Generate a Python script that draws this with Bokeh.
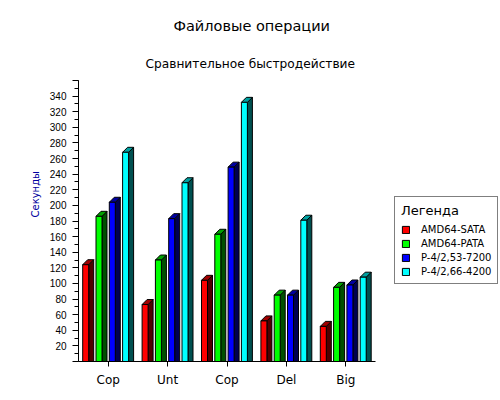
import math
from bokeh.plotting import figure
from bokeh.models import (ColumnDataSource, FixedTicker, Legend, LegendItem,
                          Title, Range1d)
from bokeh.embed import file_html
from bokeh.resources import INLINE

# ---- data ----
categories = ["Cop", "Unt", "Cop", "Del", "Big"]
series_names = ["AMD64-SATA", "AMD64-PATA", "P-4/2,53-7200", "P-4/2,66-4200"]
amd64_sata = [124, 73, 104, 52, 45]
amd64_pata = [186, 130, 163, 85, 95]
p4_253_7200 = [204, 183, 249, 85, 98]
p4_266_4200 = [268, 229, 332, 181, 108]
y_ticks = list(range(0, 361, 20))
y_minor = list(range(0, 361, 10))

series_values = [amd64_sata, amd64_pata, p4_253_7200, p4_266_4200]
front_colors = ["#FF0000", "#00FF00", "#0000FF", "#00FFFF"]
top_colors = ["#A00000", "#00A000", "#0000A0", "#00A0A0"]
side_colors = ["#500000", "#005000", "#000050", "#005050"]

FRAME_W, FRAME_H = 297, 281
X0, X1 = -0.5, 4.5
Y0, Y1 = 0, 360
px_x = FRAME_W / (X1 - X0)
px_y = FRAME_H / (Y1 - Y0)
bar_w = 6 / px_x
bar_step = 13.3 / px_x
first_off = -25.5 / px_x
dx = 5 / px_x
dy = 5 / px_y

p = figure(frame_width=FRAME_W, frame_height=FRAME_H,
           x_range=Range1d(X0, X1), y_range=Range1d(Y0, Y1),
           output_backend="svg", toolbar_location=None, title=None,
           min_border_left=78, min_border_right=125,
           min_border_top=80, min_border_bottom=39)
p.xgrid.visible = False
p.ygrid.visible = False
p.outline_line_color = None
p.background_fill_color = "white"
p.border_fill_color = "white"

legend_items = []
for k, (name, vals) in enumerate(zip(series_names, series_values)):
    lefts = [i + first_off + k * bar_step for i in range(len(vals))]
    rights = [l + bar_w for l in lefts]
    side_xs = [[r, r + dx, r + dx, r] for r in rights]
    side_ys = [[0, 0, v + dy, v] for v in vals]
    top_xs = [[l, r, r + dx, l + dx] for l, r in zip(lefts, rights)]
    top_ys = [[v, v, v + dy, v + dy] for v in vals]
    p.patches(side_xs, side_ys, fill_color=side_colors[k], line_color="black", line_width=1)
    p.patches(top_xs, top_ys, fill_color=top_colors[k], line_color="black", line_width=1)
    src = ColumnDataSource(dict(left=lefts, right=rights, top=vals, bottom=[0] * len(vals)))
    r = p.quad(left="left", right="right", top="top", bottom="bottom", source=src,
               fill_color=front_colors[k], line_color="black", line_width=1)
    legend_items.append(LegendItem(label=name, renderers=[r]))

# x axis
xa = p.xaxis[0]
xa.ticker = FixedTicker(ticks=list(range(len(categories))), minor_ticks=[])
xa.major_label_overrides = {i: c for i, c in enumerate(categories)}
xa.major_tick_in = 0
xa.major_tick_out = 5
xa.minor_tick_in = 0
xa.minor_tick_out = 0
xa.major_label_standoff = 6
xa.major_label_text_font = "DejaVu Sans"
xa.major_label_text_font_size = "12px"
xa.major_label_text_color = "black"
xa.axis_line_color = "black"
xa.major_tick_line_color = "black"

# y axis
ya = p.yaxis[0]
ya.ticker = FixedTicker(ticks=y_ticks, minor_ticks=y_minor)
ya.major_label_overrides = {0: "", 360: ""}
ya.major_tick_in = 0
ya.major_tick_out = 6
ya.minor_tick_in = 0
ya.minor_tick_out = 4
ya.major_label_standoff = 6
ya.major_label_text_font = "Liberation Sans"
ya.major_label_text_font_size = "10px"
ya.major_label_text_color = "black"
ya.axis_line_color = "black"
ya.major_tick_line_color = "black"
ya.minor_tick_line_color = "black"

# titles (later added = further from the frame)
p.add_layout(Title(text="Сравнительное быстродействие", align="left", offset=67,
                   text_font="DejaVu Sans", text_font_size="12.2px",
                   text_font_style="normal", text_color="black",
                   standoff=20), "above")
p.add_layout(Title(text="Файловые операции", align="left", offset=95,
                   text_font="DejaVu Sans", text_font_size="14.5px",
                   text_font_style="normal", text_color="black",
                   standoff=22), "above")
p.add_layout(Title(text="Секунды", align="left", offset=144,
                   text_font="DejaVu Sans", text_font_size="10px",
                   text_font_style="normal", text_color="#0000A0",
                   standoff=11), "left")

legend = Legend(items=legend_items, location=(19, 77), title="Легенда",
                title_text_font="DejaVu Sans", title_text_font_size="13px",
                title_text_font_style="normal", title_text_color="black",
                title_standoff=6,
                label_text_font="DejaVu Sans", label_text_font_size="10px",
                label_text_color="black", label_height=10, label_standoff=11,
                glyph_width=9, glyph_height=9, spacing=3, padding=6, margin=0,
                border_line_color="black", border_line_width=1,
                background_fill_color="white", background_fill_alpha=1)
p.add_layout(legend, "right")

open("out.html", "w").write(file_html(p, INLINE))
